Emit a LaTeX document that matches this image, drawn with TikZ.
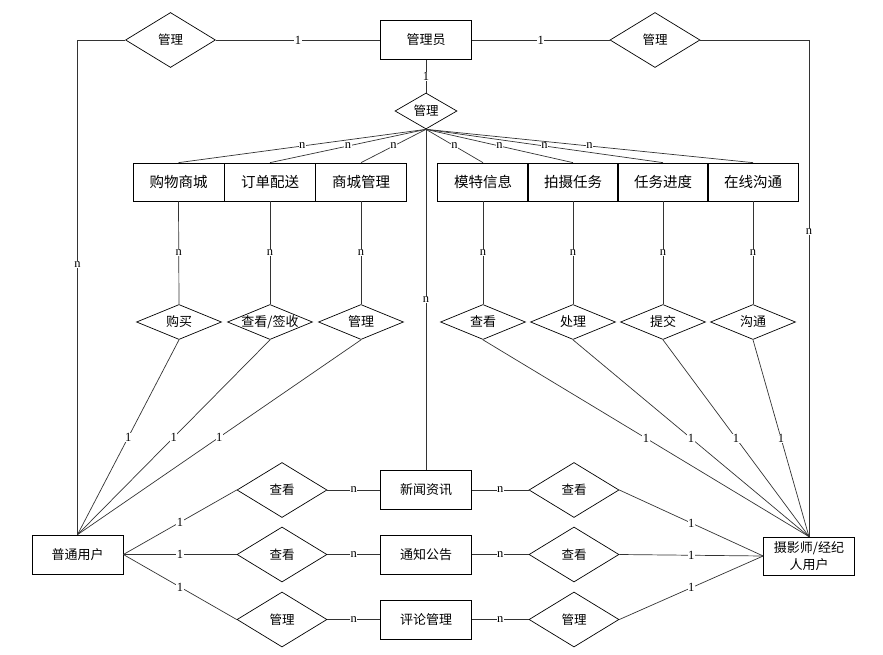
\documentclass[tikz,border=0pt]{standalone}
\usepackage{fontspec}
\setmainfont{Liberation Serif}
\newfontfamily\cjk{Noto Sans CJK SC}
\usetikzlibrary{shapes.geometric}

\begin{document}
\begin{tikzpicture}[x=1pt, y=-1pt, line width=0.7pt,
  entity/.style={draw, rectangle, minimum width=91pt, minimum height=39pt, inner sep=0pt, font=\cjk\fontsize{13}{17}\selectfont},
  rowent/.style={entity, minimum height=38pt, font=\cjk\fontsize{14.5}{17}\selectfont},
  rel/.style={draw, diamond, aspect=1.64, minimum width=90pt, minimum height=55pt, inner sep=0pt, font=\cjk\fontsize{12.5}{14}\selectfont},
  relhub/.style={rel, aspect=1.72, minimum width=62pt, minimum height=36pt},
  relrow/.style={rel, aspect=2.43, minimum width=85pt, minimum height=35pt, inner sep=-2pt, font=\cjk\fontsize{13}{14}\selectfont},
  lab/.style={fill=white, inner sep=0.6pt, font=\fontsize{12.5}{13}\selectfont},
  link/.style={draw=black!80}]
\useasboundingbox (0, 0) rectangle (883, 655);
%Top
\node[entity] (admin) at (426, 40) {管理员};
\node[rel] (mgL) at (170.5, 40) {管理};
\node[rel] (mgR) at (655, 40) {管理};
\node[relhub] (mgC) at (426, 111) {管理};
%Users
\node[entity] (user) at (77.5, 554.5) {普通用户};
\node[entity, align=center, minimum height=38pt] (photo) at (809, 556) {摄影师/经纪\\人用户};
%Row of entities
\node[rowent] (shop) at (178.5, 182) {购物商城};
\node[rowent] (order) at (270, 182) {订单配送};
\node[rowent] (mall) at (361, 182) {商城管理};
\node[rowent] (model) at (483, 182) {模特信息};
\node[rowent] (task) at (573, 182) {拍摄任务};
\node[rowent] (prog) at (663, 182) {任务进度};
\node[rowent] (chat) at (753, 182) {在线沟通};
%Row of relations
\node[relrow] (buy) at (179, 322) {购买};
\node[relrow] (sign) at (270, 322) {查看/签收};
\node[relrow] (mallmg) at (361, 322) {管理};
\node[relrow] (look) at (483, 322) {查看};
\node[relrow] (handle) at (573, 322) {处理};
\node[relrow] (submit) at (663, 322) {提交};
\node[relrow] (talk) at (753, 322) {沟通};
%Bottom
\node[entity] (news) at (426, 490) {新闻资讯};
\node[entity] (notice) at (426, 554.5) {通知公告};
\node[entity] (review) at (426, 619.5) {评论管理};
\node[rel] (uv1) at (282, 490) {查看};
\node[rel] (uv2) at (282, 554.5) {查看};
\node[rel] (uv3) at (282, 619.5) {管理};
\node[rel] (pv1) at (574, 490) {查看};
\node[rel] (pv2) at (574, 554.5) {查看};
\node[rel] (pv3) at (574, 619.5) {管理};
%Admin links
\draw[link] (mgL.east) -- node[lab] {1} (admin.west);
\draw[link] (admin.east) -- node[lab] {1} (mgR.west);
\draw[link] (mgL.west) -| node[lab, pos=0.727] {n} (user.north);
\draw[link] (mgR.east) -| node[lab, pos=0.693] {n} (photo.north);
\draw[link] (admin.south) -- node[lab] {1} (mgC.north);
\draw[link] (mgC.south) -- node[lab] {n} (shop.north);
\draw[link] (mgC.south) -- node[lab] {n} (order.north);
\draw[link] (mgC.south) -- node[lab] {n} (mall.north);
\draw[link] (mgC.south) -- node[lab] {n} (model.north);
\draw[link] (mgC.south) -- node[lab] {n} (task.north);
\draw[link] (mgC.south) -- node[lab] {n} (prog.north);
\draw[link] (mgC.south) -- node[lab] {n} (chat.north);
\draw[link] (mgC.south) -- node[lab] {n} (news.north);
%Entity to relation
\draw[link] (shop.south) -- node[lab] {n} (buy.north);
\draw[link] (order.south) -- node[lab] {n} (sign.north);
\draw[link] (mall.south) -- node[lab] {n} (mallmg.north);
\draw[link] (model.south) -- node[lab] {n} (look.north);
\draw[link] (task.south) -- node[lab] {n} (handle.north);
\draw[link] (prog.south) -- node[lab] {n} (submit.north);
\draw[link] (chat.south) -- node[lab] {n} (talk.north);
%Relation to users
\draw[link] (buy.south) -- node[lab] {1} (user.north);
\draw[link] (sign.south) -- node[lab] {1} (user.north);
\draw[link] (mallmg.south) -- node[lab] {1} (user.north);
\draw[link] (look.south) -- node[lab] {1} (photo.north);
\draw[link] (handle.south) -- node[lab] {1} (photo.north);
\draw[link] (submit.south) -- node[lab] {1} (photo.north);
\draw[link] (talk.south) -- node[lab] {1} (photo.north);
%Bottom links
\draw[link] (user.east) -- node[lab] {1} (uv1.west);
\draw[link] (user.east) -- node[lab] {1} (uv2.west);
\draw[link] (user.east) -- node[lab] {1} (uv3.west);
\draw[link] (uv1.east) -- node[lab] {n} (news.west);
\draw[link] (uv2.east) -- node[lab] {n} (notice.west);
\draw[link] (uv3.east) -- node[lab] {n} (review.west);
\draw[link] (news.east) -- node[lab] {n} (pv1.west);
\draw[link] (notice.east) -- node[lab] {n} (pv2.west);
\draw[link] (review.east) -- node[lab] {n} (pv3.west);
\draw[link] (pv1.east) -- node[lab] {1} (photo.west);
\draw[link] (pv2.east) -- node[lab] {1} (photo.west);
\draw[link] (pv3.east) -- node[lab] {1} (photo.west);
\end{tikzpicture}
\end{document}
